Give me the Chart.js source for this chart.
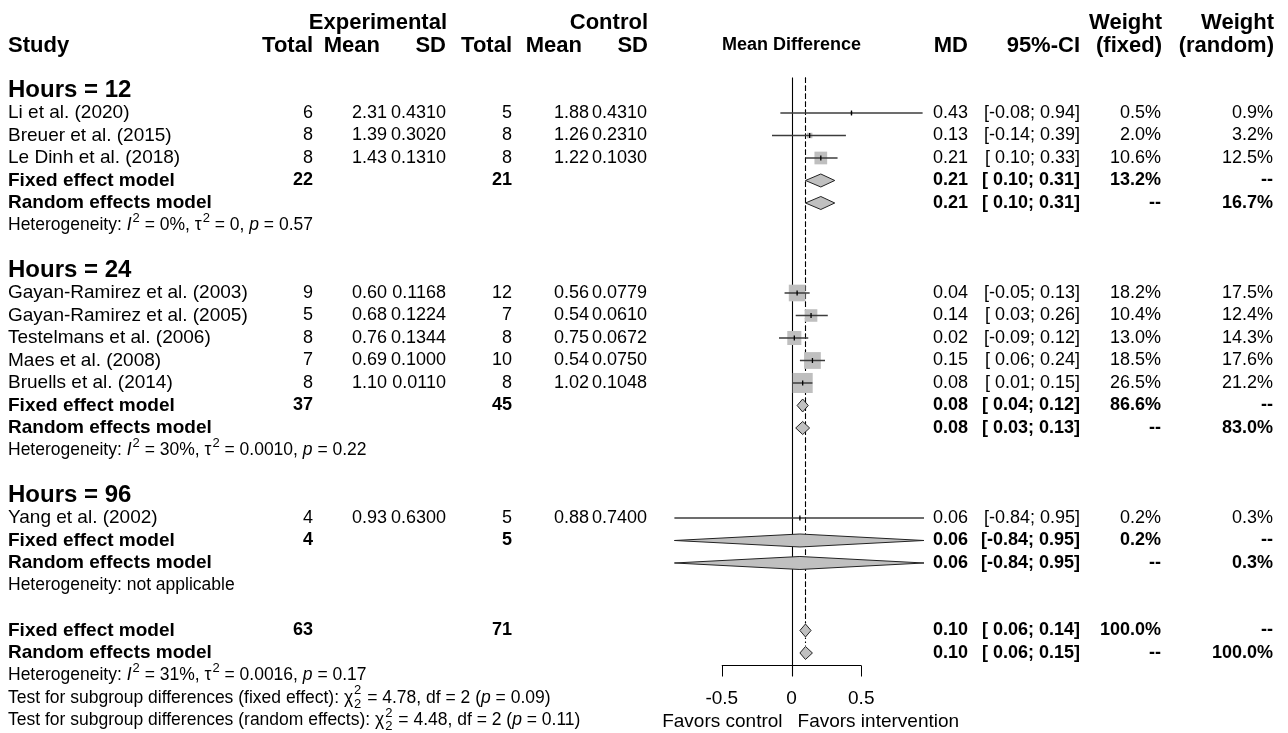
<!DOCTYPE html>
<html>
<head>
<meta charset="utf-8">
<script src="https://cdn.jsdelivr.net/npm/chart.js@4.4.1/dist/chart.umd.min.js"></script>
<style>
  html, body { margin: 0; padding: 0; background: #ffffff; }
  #wrap { position: relative; width: 1288px; height: 733px; }
</style>
</head>
<body>
<div id="wrap"><canvas id="forest" width="1288" height="733"></canvas></div>
<script>
// ---- Study-level data ----
const studyNames = ['Li et al. (2020)', 'Breuer et al. (2015)', 'Le Dinh et al. (2018)',
  'Gayan-Ramirez et al. (2003)', 'Gayan-Ramirez et al. (2005)', 'Testelmans et al. (2006)',
  'Maes et al. (2008)', 'Bruells et al. (2014)', 'Yang et al. (2002)'];
const studyGroup = [0, 0, 0, 1, 1, 1, 1, 1, 2];
const expTotal = [6, 8, 8, 9, 5, 8, 7, 8, 4];
const expMean = [2.31, 1.39, 1.43, 0.60, 0.68, 0.76, 0.69, 1.10, 0.93];
const expSD = [0.4310, 0.3020, 0.1310, 0.1168, 0.1224, 0.1344, 0.1000, 0.0110, 0.6300];
const ctrlTotal = [5, 8, 8, 12, 7, 8, 10, 8, 5];
const ctrlMean = [1.88, 1.26, 1.22, 0.56, 0.54, 0.75, 0.54, 1.02, 0.88];
const ctrlSD = [0.4310, 0.2310, 0.1030, 0.0779, 0.0610, 0.0672, 0.0750, 0.1048, 0.7400];
const studyMD = [0.43, 0.13, 0.21, 0.04, 0.14, 0.02, 0.15, 0.08, 0.06];
const studyLow = [-0.08, -0.14, 0.10, -0.05, 0.03, -0.09, 0.06, 0.01, -0.84];
const studyHigh = [0.94, 0.39, 0.33, 0.13, 0.26, 0.12, 0.24, 0.15, 0.95];
const weightFixed = [0.5, 2.0, 10.6, 18.2, 10.4, 13.0, 18.5, 26.5, 0.2];
const weightRandom = [0.9, 3.2, 12.5, 17.5, 12.4, 14.3, 17.6, 21.2, 0.3];

// ---- Subgroup summaries ----
const groupLabels = ['Hours = 12', 'Hours = 24', 'Hours = 96'];
const groupExpTotal = [22, 37, 4];
const groupCtrlTotal = [21, 45, 5];
const groupFixedMD = [0.21, 0.08, 0.06];
const groupFixedLow = [0.10, 0.04, -0.84];
const groupFixedHigh = [0.31, 0.12, 0.95];
const groupFixedWeight = [13.2, 86.6, 0.2];
const groupRandomMD = [0.21, 0.08, 0.06];
const groupRandomLow = [0.10, 0.03, -0.84];
const groupRandomHigh = [0.31, 0.13, 0.95];
const groupRandomWeight = [16.7, 83.0, 0.3];
const groupI2 = ['0%', '30%', null];
const groupTau2 = ['0', '0.0010', null];
const groupP = ['0.57', '0.22', null];

// ---- Overall summaries ----
const overallExpTotal = 63;
const overallCtrlTotal = 71;
const overallFixed = [0.10, 0.06, 0.14];   // MD, lower, upper
const overallRandom = [0.10, 0.06, 0.15];
const overallI2 = '31%';
const overallTau2 = '0.0016';
const overallP = '0.17';
const subgroupTestFixed = ['4.78', '2', '0.09'];   // chi2, df, p
const subgroupTestRandom = ['4.48', '2', '0.11'];

// ---- Axis ----
const axisTicks = [-0.5, 0, 0.5];
const axisTickLabels = ['-0.5', '0', '0.5'];
const axisLeftLabel = 'Favors control';
const axisRightLabel = 'Favors intervention';

// ---- Row layout (one row per line of the table) ----
const rows = [];
groupLabels.forEach((label, g) => {
  rows.push({ kind: 'group', g });
  studyNames.forEach((n, i) => { if (studyGroup[i] === g) rows.push({ kind: 'study', i }); });
  rows.push({ kind: 'gfixed', g });
  rows.push({ kind: 'grandom', g });
  rows.push({ kind: 'ghet', g });
  rows.push({ kind: 'blank' });
});
rows.push({ kind: 'ofixed' });
rows.push({ kind: 'orandom' });
rows.push({ kind: 'ohet' });
rows.push({ kind: 'otest', test: subgroupTestFixed, label: 'Test for subgroup differences (fixed effect): ' });
rows.push({ kind: 'otest', test: subgroupTestRandom, label: 'Test for subgroup differences (random effects): ' });

const FONT = '"Liberation Sans", Arial, Helvetica, sans-serif';
const COL = {
  study: 8, expTotal: 313, expMean: 387, expSD: 446, ctrlTotal: 512, ctrlMean: 589, ctrlSD: 647,
  md: 968, ci: 1080, wf: 1161, wr: 1273
};
const NUM = 18;     // numeric columns
const LAB = 19;     // row labels
const HET = 17.5;   // heterogeneity / test lines

function fmtCI(lo, hi) {
  const l = (lo < 0 ? '-' : ' ') + Math.abs(lo).toFixed(2);
  return '[' + l + '; ' + hi.toFixed(2) + ']';
}
function fmtW(w) { return w.toFixed(1) + '%'; }

function text(ctx, s, x, y, opt = {}) {
  const size = opt.size || LAB;
  ctx.font = (opt.italic ? 'italic ' : '') + (opt.bold ? 'bold ' : '') + size + 'px ' + FONT;
  ctx.textAlign = opt.align || 'left';
  ctx.textBaseline = 'middle';
  ctx.fillStyle = '#000';
  ctx.fillText(s, x, y);
  return ctx.measureText(s).width;
}

// Inline formula text: plain, italic and super/subscript pieces
function rich(ctx, parts, x, y, size) {
  let cx = x;
  const small = Math.round(size * 0.72);
  for (const p of parts) {
    if (p.sup && p.sub) {
      const w1 = text(ctx, p.sup, cx + 1, y - size * 0.42, { size: small });
      const w2 = text(ctx, p.sub, cx + 1, y + size * 0.36, { size: small });
      cx += Math.max(w1, w2) + 2;
    } else if (p.sup) {
      cx += text(ctx, p.sup, cx + 1, y - size * 0.42, { size: small }) + 1;
    } else {
      cx += text(ctx, p.t, cx, y, { size, italic: !!p.it });
    }
  }
}

function hetParts(i2, tau2, p) {
  return [{ t: 'Heterogeneity: ' }, { t: 'I', it: true }, { sup: '2' }, { t: ' = ' + i2 + ', \u03C4' },
    { sup: '2' }, { t: ' = ' + tau2 + ', ' }, { t: 'p', it: true }, { t: ' = ' + p }];
}

const forestPlugin = {
  id: 'forestPlot',
  beforeDatasetsDraw(chart) {
    const ctx = chart.ctx, xs = chart.scales.x, ys = chart.scales.y;
    const top = ys.getPixelForValue(-0.58);
    const axisBottom = ys.getPixelForValue(25) + 23;
    ctx.save();
    // line of no effect
    ctx.strokeStyle = '#000'; ctx.lineWidth = 1.1;
    const x0 = Math.round(xs.getPixelForValue(0)) + 0.5;
    ctx.beginPath(); ctx.moveTo(x0, top); ctx.lineTo(x0, axisBottom); ctx.stroke();
    // common-effect (dashed) and random-effects (dotted) estimate lines
    const xf = Math.round(xs.getPixelForValue(overallFixed[0])) + 0.5;
    ctx.setLineDash([5, 3]);
    ctx.beginPath(); ctx.moveTo(xf, top); ctx.lineTo(xf, ys.getPixelForValue(24) - 7); ctx.stroke();
    const xr = Math.round(xs.getPixelForValue(overallRandom[0])) + 0.5;
    ctx.setLineDash([1.5, 2.5]);
    ctx.beginPath(); ctx.moveTo(xr, top); ctx.lineTo(xr, ys.getPixelForValue(25) - 7); ctx.stroke();
    ctx.restore();
  },
  afterDatasetsDraw(chart) {
    const ctx = chart.ctx, xs = chart.scales.x, ys = chart.scales.y;
    const X = v => xs.getPixelForValue(v);
    const Y = r => ys.getPixelForValue(r);
    ctx.save();

    const diamond = (md, lo, hi, r) => {
      const y = Y(r), h = 6.5;
      ctx.beginPath();
      ctx.moveTo(X(lo), y); ctx.lineTo(X(md), y - h); ctx.lineTo(X(hi), y); ctx.lineTo(X(md), y + h);
      ctx.closePath();
      ctx.fillStyle = '#c0c0c0'; ctx.fill();
      ctx.strokeStyle = '#222'; ctx.lineWidth = 1; ctx.stroke();
    };

    rows.forEach((row, r) => {
      const y = Y(r);
      if (row.kind === 'study') {
        const i = row.i;
        ctx.strokeStyle = '#3c3c3c'; ctx.lineWidth = 1.5;
        ctx.beginPath(); ctx.moveTo(X(studyLow[i]), y); ctx.lineTo(X(studyHigh[i]), y); ctx.stroke();
        ctx.strokeStyle = '#000'; ctx.lineWidth = 1.3;
        const xm = X(studyMD[i]);
        ctx.beginPath(); ctx.moveTo(xm, y - 2.5); ctx.lineTo(xm, y + 2.5); ctx.stroke();
      } else if (row.kind === 'gfixed') {
        diamond(groupFixedMD[row.g], groupFixedLow[row.g], groupFixedHigh[row.g], r);
      } else if (row.kind === 'grandom') {
        diamond(groupRandomMD[row.g], groupRandomLow[row.g], groupRandomHigh[row.g], r);
      } else if (row.kind === 'ofixed') {
        diamond(overallFixed[0], overallFixed[1], overallFixed[2], r);
      } else if (row.kind === 'orandom') {
        diamond(overallRandom[0], overallRandom[1], overallRandom[2], r);
      }
    });

    // x axis
    const ay = Math.round(Y(25) + 12) + 0.5;
    ctx.strokeStyle = '#000'; ctx.lineWidth = 1;
    ctx.beginPath();
    ctx.moveTo(X(axisTicks[0]), ay); ctx.lineTo(X(axisTicks[axisTicks.length - 1]), ay);
    axisTicks.forEach(t => { const tx = Math.round(X(t)) + 0.5; ctx.moveTo(tx, ay); ctx.lineTo(tx, ay + 11); });
    ctx.stroke();
    axisTicks.forEach((t, k) => text(ctx, axisTickLabels[k], X(t), Y(27) + 1, { align: 'center' }));
    text(ctx, axisLeftLabel, X(0) - 9, Y(28) + 1, { align: 'right' });
    text(ctx, axisRightLabel, X(0) + 6, Y(28) + 1, { align: 'left' });

    // column headings
    const h1 = Y(-3), h2 = Y(-2);
    const HB = { bold: true, size: 22, align: 'right' };
    text(ctx, 'Experimental', 447, h1, HB);
    text(ctx, 'Control', 648, h1, HB);
    text(ctx, 'Weight', 1162, h1, HB);
    text(ctx, 'Weight', 1274, h1, HB);
    text(ctx, 'Study', 8, h2, { bold: true, size: 22 });
    text(ctx, 'Total', 313, h2, HB);
    text(ctx, 'Mean', 380, h2, HB);
    text(ctx, 'SD', 446, h2, HB);
    text(ctx, 'Total', 512, h2, HB);
    text(ctx, 'Mean', 582, h2, HB);
    text(ctx, 'SD', 648, h2, HB);
    text(ctx, 'Mean Difference', X(0), h2, { bold: true, size: 18, align: 'center' });
    text(ctx, 'MD', 968, h2, HB);
    text(ctx, '95%-CI', 1080, h2, HB);
    text(ctx, '(fixed)', 1162, h2, HB);
    text(ctx, '(random)', 1274, h2, HB);

    const R = { align: 'right', size: NUM };
    const RB = { align: 'right', bold: true, size: NUM };
    const B = { bold: true };
    rows.forEach((row, r) => {
      const y = Y(r);
      switch (row.kind) {
        case 'group':
          text(ctx, groupLabels[row.g], 8, y, { bold: true, size: 24 });
          break;
        case 'study': {
          const i = row.i;
          text(ctx, studyNames[i], COL.study, y);
          text(ctx, String(expTotal[i]), COL.expTotal, y, R);
          text(ctx, expMean[i].toFixed(2), COL.expMean, y, R);
          text(ctx, expSD[i].toFixed(4), COL.expSD, y, R);
          text(ctx, String(ctrlTotal[i]), COL.ctrlTotal, y, R);
          text(ctx, ctrlMean[i].toFixed(2), COL.ctrlMean, y, R);
          text(ctx, ctrlSD[i].toFixed(4), COL.ctrlSD, y, R);
          text(ctx, studyMD[i].toFixed(2), COL.md, y, R);
          text(ctx, fmtCI(studyLow[i], studyHigh[i]), COL.ci, y, R);
          text(ctx, fmtW(weightFixed[i]), COL.wf, y, R);
          text(ctx, fmtW(weightRandom[i]), COL.wr, y, R);
          break;
        }
        case 'gfixed':
          text(ctx, 'Fixed effect model', 8, y, B);
          text(ctx, String(groupExpTotal[row.g]), COL.expTotal, y, RB);
          text(ctx, String(groupCtrlTotal[row.g]), COL.ctrlTotal, y, RB);
          text(ctx, groupFixedMD[row.g].toFixed(2), COL.md, y, RB);
          text(ctx, fmtCI(groupFixedLow[row.g], groupFixedHigh[row.g]), COL.ci, y, RB);
          text(ctx, fmtW(groupFixedWeight[row.g]), COL.wf, y, RB);
          text(ctx, '--', COL.wr, y, RB);
          break;
        case 'grandom':
          text(ctx, 'Random effects model', 8, y, B);
          text(ctx, groupRandomMD[row.g].toFixed(2), COL.md, y, RB);
          text(ctx, fmtCI(groupRandomLow[row.g], groupRandomHigh[row.g]), COL.ci, y, RB);
          text(ctx, '--', COL.wf, y, RB);
          text(ctx, fmtW(groupRandomWeight[row.g]), COL.wr, y, RB);
          break;
        case 'ghet':
          if (groupI2[row.g] === null) rich(ctx, [{ t: 'Heterogeneity: not applicable' }], 8, y, HET);
          else rich(ctx, hetParts(groupI2[row.g], groupTau2[row.g], groupP[row.g]), 8, y, HET);
          break;
        case 'ofixed':
          text(ctx, 'Fixed effect model', 8, y, B);
          text(ctx, String(overallExpTotal), COL.expTotal, y, RB);
          text(ctx, String(overallCtrlTotal), COL.ctrlTotal, y, RB);
          text(ctx, overallFixed[0].toFixed(2), COL.md, y, RB);
          text(ctx, fmtCI(overallFixed[1], overallFixed[2]), COL.ci, y, RB);
          text(ctx, '100.0%', COL.wf, y, RB);
          text(ctx, '--', COL.wr, y, RB);
          break;
        case 'orandom':
          text(ctx, 'Random effects model', 8, y, B);
          text(ctx, overallRandom[0].toFixed(2), COL.md, y, RB);
          text(ctx, fmtCI(overallRandom[1], overallRandom[2]), COL.ci, y, RB);
          text(ctx, '--', COL.wf, y, RB);
          text(ctx, '100.0%', COL.wr, y, RB);
          break;
        case 'ohet':
          rich(ctx, hetParts(overallI2, overallTau2, overallP), 8, y, HET);
          break;
        case 'otest':
          rich(ctx, [{ t: row.label + '\u03C7' }, { sup: '2', sub: '2' },
            { t: ' = ' + row.test[0] + ', df = ' + row.test[1] + ' (' }, { t: 'p', it: true },
            { t: ' = ' + row.test[2] + ')' }], 8, y, HET);
          break;
      }
    });
    ctx.restore();
  }
};

// squares: one per study, side proportional to sqrt(fixed weight)
const squareRows = [];
rows.forEach((row, r) => { if (row.kind === 'study') squareRows[row.i] = r; });
const squarePoints = studyMD.map((md, i) => ({ x: md, y: squareRows[i] }));
const squareRadius = weightFixed.map(w => (3.9 * Math.sqrt(w)) / (2 * Math.SQRT1_2));

new Chart(document.getElementById('forest'), {
  type: 'scatter',
  data: {
    datasets: [{
      data: squarePoints,
      pointStyle: 'rect',
      pointRadius: squareRadius,
      pointHoverRadius: squareRadius,
      backgroundColor: '#bfbfbf',
      borderWidth: 0
    }]
  },
  options: {
    responsive: false,
    animation: false,
    devicePixelRatio: 1,
    layout: { autoPadding: false, padding: { left: 673, right: 364, top: 0, bottom: 0 } },
    plugins: { legend: { display: false }, tooltip: { enabled: false } },
    scales: {
      x: { type: 'linear', min: -0.85, max: 0.95, display: false },
      y: { type: 'linear', min: -4.022, max: 28.556, reverse: true, display: false }
    }
  },
  plugins: [forestPlugin]
});
</script>
</body>
</html>
